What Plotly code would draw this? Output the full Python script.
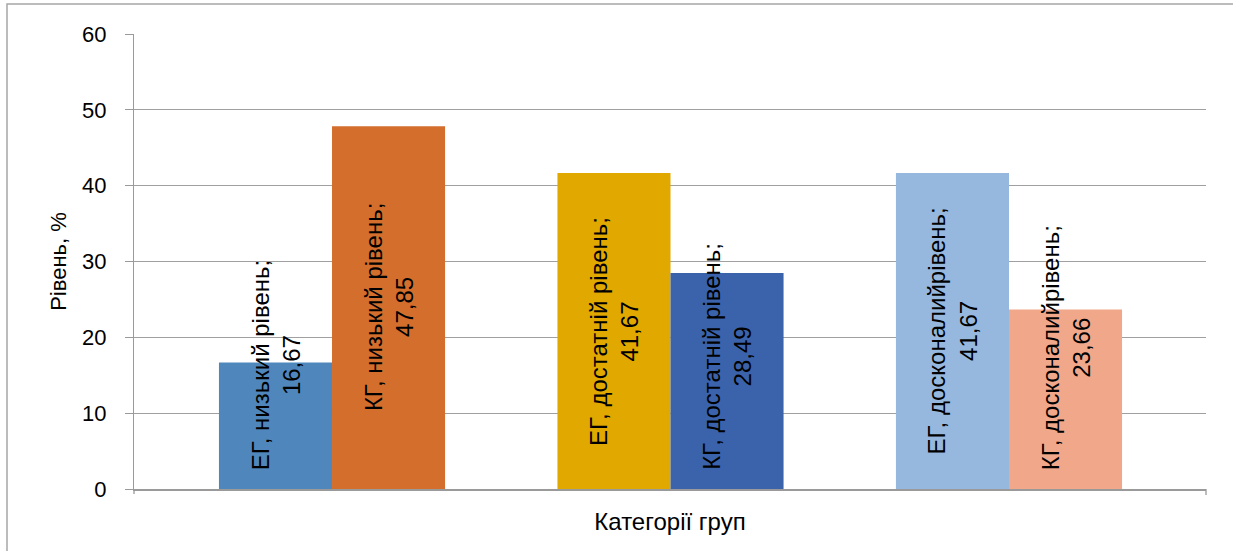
import plotly.graph_objects as go

# ---- data ----
levels = ["низький рівень", "достатній рівень", "досконалийрівень"]
groups = ["ЕГ", "КГ"]
eg_values = [16.67, 41.67, 41.67]
kg_values = [47.85, 28.49, 23.66]
eg_colors = ["#4F87BD", "#E1A800", "#96B8DF"]
kg_colors = ["#D36E2C", "#3B63AC", "#F1A78A"]
y_ticks = [0, 10, 20, 30, 40, 50, 60]

# ---- layout constants ----
W, H = 1233, 551
ML, MR, MT, MB = 134, 27, 34, 62
plot_w = W - ML - MR
plot_h = H - MT - MB
y_max = 60
bargap = 0.332
x_range = [-0.585, 2.582]
FONT = "Liberation Sans"
label_size = 24
px_per_unit = plot_h / y_max
min_base = 2.2  # units above zero for labels that do not fit

fig = go.Figure()
for g, vals, cols in [(groups[0], eg_values, eg_colors), (groups[1], kg_values, kg_colors)]:
    fig.add_trace(go.Bar(
        x=levels, y=vals, name=g,
        marker=dict(color=cols, line=dict(width=0)),
        showlegend=False, hoverinfo="skip",
    ))

half_bar = (1 - bargap) / 4
annotations = []
for gi, (g, vals) in enumerate([(groups[0], eg_values), (groups[1], kg_values)]):
    for i, (lev, v) in enumerate(zip(levels, vals)):
        line1 = f"{g}, {lev};"
        line2 = f"{v:.2f}".replace(".", ",")
        label_len_units = len(line1) * label_size * 0.47 / px_per_unit
        xpos = i + (-half_bar if gi == 0 else half_bar)
        if v / 2 - label_len_units / 2 < min_base:
            y, ya = min_base, "bottom"
        else:
            y, ya = v / 2, "middle"
        annotations.append(dict(
            x=xpos, y=y, xref="x", yref="y", text=f"{line1}<br>{line2}",
            showarrow=False, textangle=-90, xanchor="center", yanchor=ya,
            align="center", font=dict(family=FONT, size=label_size, color="#000000"),
        ))

fig.update_layout(
    width=W, height=H,
    margin=dict(l=ML, r=MR, t=MT, b=MB, pad=0),
    paper_bgcolor="#FFFFFF", plot_bgcolor="#FFFFFF",
    barmode="group", bargap=bargap, bargroupgap=0,
    font=dict(family=FONT, size=22, color="#000000"),
    annotations=annotations,
    xaxis=dict(
        type="category", range=x_range, showticklabels=False, ticks="",
        showgrid=False, showline=True, linecolor="#9A9A9A", linewidth=1.5,
        zeroline=False,
        title=dict(text="Категорії груп", font=dict(size=24), standoff=23),
    ),
    yaxis=dict(
        range=[0, y_max], tickvals=y_ticks, ticks="outside", ticklen=8,
        tickcolor="#9A9A9A", tickwidth=1.3, ticklabelstandoff=14,
        showgrid=True, gridcolor="#A0A0A0", gridwidth=1.3,
        showline=True, linecolor="#9A9A9A", linewidth=1.3, zeroline=False,
        tickfont=dict(size=22),
        title=dict(text="Рівень, %", font=dict(size=22), standoff=9),
    ),
    shapes=[
        # outer chart border
        dict(type="rect", xref="paper", yref="paper",
             x0=(7 - ML) / plot_w, x1=(W + 5 - ML) / plot_w,
             y0=-(H + 5 - MT - plot_h) / plot_h, y1=1 + (MT - 4) / plot_h,
             line=dict(color="#A6A6A6", width=1.5), layer="below"),
        # axis end ticks
        dict(type="line", xref="paper", yref="paper", x0=0, x1=0,
             y0=0, y1=-5 / plot_h, line=dict(color="#9A9A9A", width=1.3)),
        dict(type="line", xref="paper", yref="paper", x0=1, x1=1,
             y0=0, y1=-6 / plot_h, line=dict(color="#9A9A9A", width=1.3)),
    ],
)

fig.write_html("out.html", config={"displayModeBar": False},
               post_script="document.body.style.margin='0';")
